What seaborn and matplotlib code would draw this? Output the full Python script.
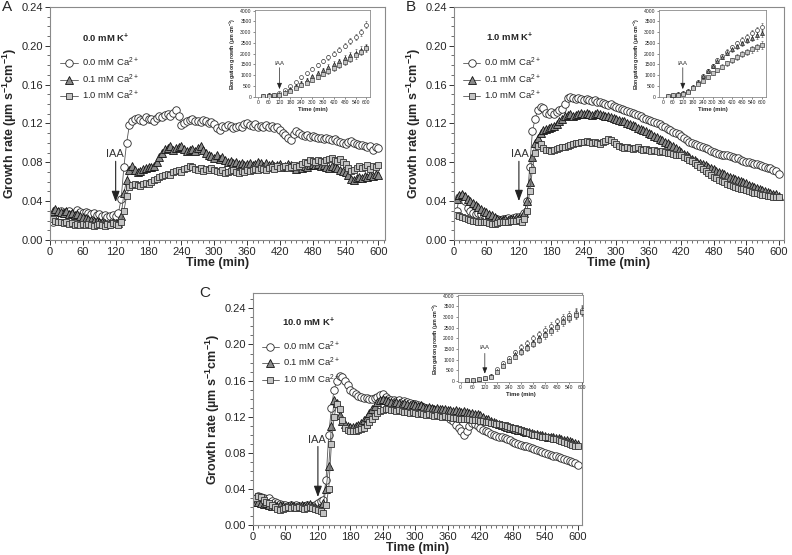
import numpy as np
import matplotlib
matplotlib.use("Agg")
import matplotlib.pyplot as plt
from matplotlib.lines import Line2D
from matplotlib.ticker import MultipleLocator, FormatStrFormatter
import seaborn as sns

# time axis of the growth-rate traces (min)
time = np.arange(5, 601, 5)

# growth rate, in 1e-3 um s-1 cm-1, every 5 min
# panel A: 0.0 mM K+
a_ca00 = [18, 26, 29, 30, 28, 29, 30, 27, 28, 31, 29, 28,
          29, 28, 27, 28, 26, 27, 25, 26, 24, 25, 26, 25,
          28, 42, 75, 100, 118, 123, 125, 126, 124, 122, 127, 125,
          125, 123, 126, 128, 127, 129, 130, 128, 131, 134, 128, 118,
          120, 122, 124, 125, 123, 122, 121, 124, 122, 120, 121, 119,
          115, 113, 117, 116, 118, 117, 115, 116, 117, 116, 119, 120,
          118, 117, 119, 116, 117, 116, 118, 116, 117, 115, 116, 113,
          110, 108, 105, 103, 109, 112, 110, 108, 107, 108, 106, 107,
          106, 105, 105, 104, 105, 104, 103, 104, 102, 101, 100, 99,
          101, 102, 100, 99, 98, 98, 97, 96, 97, 93, 96, 95]
a_ca01 = [30, 32, 30, 29, 28, 30, 27, 28, 26, 27, 25, 24,
          23, 22, 21, 20, 20, 19, 18, 17, 16, 17, 17, 17,
          17, 25, 48, 62, 72, 76, 72, 70, 71, 73, 74, 75,
          75, 76, 80, 85, 90, 94, 95, 97, 93, 95, 96, 97,
          94, 92, 93, 94, 92, 95, 97, 93, 90, 88, 86, 84,
          87, 83, 85, 82, 80, 81, 79, 80, 78, 79, 77, 78,
          79, 77, 78, 80, 79, 76, 79, 77, 78, 76, 77, 78,
          75, 76, 78, 77, 75, 73, 77, 74, 76, 75, 77, 78,
          77, 78, 76, 77, 75, 74, 76, 75, 74, 72, 71, 70,
          67, 63, 62, 64, 65, 64, 66, 65, 67, 66, 68, 67]
a_ca10 = [22, 20, 18, 19, 17, 18, 16, 17, 15, 16, 15, 16,
          15, 16, 15, 14, 15, 16, 15, 14, 16, 15, 17, 16,
          15, 18, 30, 45, 55, 57, 58, 57, 56, 58, 59, 58,
          60, 62, 63, 65, 66, 67, 68, 67, 70, 71, 72, 70,
          73, 74, 76, 75, 73, 72, 74, 71, 73, 72, 74, 72,
          71, 70, 72, 69, 70, 71, 72, 70, 69, 71, 70, 72,
          71, 72, 73, 72, 74, 73, 72, 74, 75, 73, 76, 74,
          75, 76, 74, 75, 77, 75, 76, 78, 80, 79, 82, 81,
          80, 82, 81, 80, 82, 83, 84, 82, 81, 83, 80, 78,
          74, 71, 72, 74, 76, 74, 75, 77, 73, 76, 75, 77]

# panel B: 1.0 mM K+
b_ca00 = [30, 44, 45, 40, 33, 30, 28, 27, 28, 27, 26, 25,
          24, 23, 22, 22, 21, 22, 22, 23, 22, 23, 24, 24,
          25, 28, 40, 75, 112, 125, 134, 137, 136, 131, 130, 132,
          130, 132, 134, 135, 140, 146, 147, 146, 145, 146, 145, 144,
          145, 144, 143, 144, 142, 142, 141, 140, 139, 140, 138, 137,
          136, 135, 134, 133, 132, 131, 130, 129, 128, 126, 125, 124,
          122, 121, 120, 119, 117, 116, 114, 113, 111, 110, 109, 107,
          105, 103, 101, 100, 99, 98, 97, 96, 95, 94, 92, 91,
          90, 89, 88, 88, 87, 86, 85, 84, 84, 82, 81, 80,
          80, 79, 78, 78, 77, 76, 75, 74, 74, 72, 71, 68]
b_ca01 = [42, 46, 47, 45, 42, 40, 38, 36, 34, 32, 30, 29,
          27, 26, 24, 22, 21, 21, 22, 21, 22, 22, 23, 23,
          24, 28, 40, 60, 85, 100, 105, 110, 113, 114, 115, 116,
          117, 119, 122, 125, 128, 129, 130, 128, 129, 130, 131, 130,
          131, 130, 129, 130, 131, 130, 129, 128, 128, 127, 126, 125,
          124, 123, 122, 120, 119, 118, 117, 115, 114, 113, 112, 110,
          109, 107, 106, 104, 103, 101, 100, 98, 97, 95, 93, 91,
          89, 87, 85, 83, 82, 80, 79, 78, 77, 75, 74, 73,
          71, 70, 69, 68, 66, 65, 64, 63, 62, 61, 60, 59,
          57, 56, 55, 54, 52, 51, 50, 49, 48, 47, 47, 45]
b_ca10 = [26, 25, 24, 23, 22, 21, 20, 20, 19, 19, 18, 18,
          17, 16, 16, 17, 18, 18, 19, 19, 20, 20, 20, 21,
          19, 22, 30, 50, 72, 90, 97, 99, 95, 93, 93, 92,
          93, 94, 95, 96, 96, 97, 98, 99, 100, 100, 101, 101,
          102, 101, 100, 101, 100, 99, 101, 102, 104, 103, 101, 99,
          97, 96, 95, 96, 95, 94, 95, 96, 94, 93, 94, 93,
          92, 93, 92, 91, 92, 91, 90, 90, 89, 88, 88, 87,
          85, 84, 82, 81, 79, 77, 75, 73, 71, 69, 67, 65,
          64, 62, 61, 60, 58, 57, 56, 55, 54, 53, 52, 51,
          50, 49, 48, 48, 47, 46, 46, 45, 45, 44, 44, 44]

# panel C: 10.0 mM K+
c_ca00 = [30, 32, 31, 30, 29, 30, 27, 25, 24, 23, 22, 22,
          21, 22, 21, 22, 21, 20, 21, 22, 21, 20, 22, 24,
          27, 28, 50, 100, 130, 150, 160, 165, 164, 160, 155, 150,
          147, 145, 143, 142, 141, 141, 140, 140, 141, 142, 144, 145,
          142, 140, 139, 138, 137, 138, 136, 137, 136, 135, 134, 134,
          133, 132, 131, 130, 129, 128, 127, 126, 125, 124, 123, 121,
          118, 115, 111, 108, 104, 100, 104, 110, 113, 112, 110, 107,
          105, 104, 103, 101, 100, 99, 98, 97, 96, 95, 94, 92,
          91, 90, 89, 88, 87, 86, 85, 84, 83, 82, 81, 80,
          79, 78, 77, 76, 75, 74, 73, 72, 71, 70, 69, 67]
c_ca01 = [25, 26, 24, 23, 24, 22, 21, 22, 21, 22, 21, 20,
          21, 22, 21, 20, 21, 22, 21, 22, 23, 21, 20, 19,
          20, 24, 40, 65, 110, 138, 135, 122, 115, 112, 110, 109,
          109, 110, 111, 113, 116, 120, 124, 128, 132, 136, 139, 140,
          138, 137, 136, 135, 136, 135, 134, 135, 134, 133, 134, 133,
          132, 133, 131, 130, 131, 130, 129, 130, 129, 128, 128, 127,
          127, 126, 127, 126, 125, 126, 125, 124, 124, 123, 123, 122,
          120, 118, 117, 115, 114, 113, 112, 111, 110, 109, 108, 107,
          106, 105, 105, 104, 103, 103, 102, 101, 101, 100, 100, 99,
          98, 98, 97, 96, 96, 95, 94, 94, 93, 92, 91, 90]
c_ca10 = [30, 32, 31, 28, 25, 24, 22, 20, 18, 17, 18, 19,
          20, 19, 20, 19, 20, 19, 18, 19, 20, 19, 18, 17,
          15, 13, 22, 40, 90, 120, 134, 128, 116, 108, 105, 104,
          104, 104, 105, 106, 108, 111, 114, 118, 121, 124, 126, 127,
          128, 128, 127, 127, 126, 127, 126, 125, 125, 124, 125, 124,
          123, 124, 123, 122, 123, 122, 121, 122, 121, 120, 121, 120,
          120, 119, 119, 118, 118, 117, 117, 117, 116, 116, 116, 115,
          115, 114, 114, 113, 113, 112, 112, 111, 111, 110, 109, 108,
          107, 106, 105, 104, 103, 102, 101, 100, 100, 99, 98, 97,
          97, 96, 95, 95, 94, 93, 92, 91, 90, 89, 88, 87]

# insets: elongation growth (um cm-1) every 30 min, with error bars
ins_time = np.arange(30, 601, 30)
ia_ca00 = [40, 70, 100, 150, 300, 480, 700, 900, 1100, 1300, 1480, 1660, 1840, 2000, 2180, 2380, 2580, 2780, 3000, 3350]
ia_ca01 = [30, 60, 90, 120, 200, 350, 500, 650, 800, 950, 1100, 1250, 1400, 1530, 1650, 1800, 1930, 2050, 2180, 2300]
ia_ca10 = [25, 50, 75, 100, 160, 280, 400, 530, 650, 780, 900, 1040, 1180, 1320, 1460, 1600, 1760, 1920, 2080, 2250]
ib_ca00 = [50, 80, 110, 150, 250, 450, 700, 950, 1200, 1450, 1700, 1900, 2100, 2300, 2480, 2650, 2800, 2950, 3100, 3250]
ib_ca01 = [50, 80, 110, 150, 250, 450, 700, 950, 1200, 1430, 1650, 1850, 2050, 2200, 2350, 2500, 2620, 2730, 2850, 2950]
ib_ca10 = [40, 60, 90, 120, 200, 400, 580, 750, 900, 1080, 1250, 1400, 1550, 1700, 1850, 1980, 2100, 2200, 2300, 2400]
ic_ca00 = [40, 70, 100, 150, 250, 550, 850, 1100, 1350, 1600, 1800, 2000, 2200, 2400, 2600, 2800, 2950, 3100, 3200, 3350]
ic_ca01 = [40, 70, 100, 140, 230, 480, 750, 1000, 1250, 1450, 1650, 1850, 2050, 2250, 2450, 2650, 2850, 3000, 3150, 3300]
ic_ca10 = [35, 65, 95, 130, 200, 450, 700, 950, 1150, 1350, 1550, 1750, 1950, 2150, 2350, 2550, 2750, 2950, 3100, 3250]
ins_err = [10, 10, 15, 20, 30, 40, 50, 60, 70, 80, 90, 100, 110, 115, 120, 130, 140, 150, 160, 170]
ins_err_c = [15, 20, 25, 30, 40, 60, 80, 100, 110, 120, 130, 140, 150, 160, 170, 180, 190, 200, 210, 220]

ca_labels = ["0.0 mM Ca$^{2+}$", "0.1 mM Ca$^{2+}$", "1.0 mM Ca$^{2+}$"]
k_labels = ["0.0 mM K$^{\\mathbf{+}}$", "1.0 mM K$^{\\mathbf{+}}$", "10.0 mM K$^{\\mathbf{+}}$"]

# marker, face, edge, size
STYLES = [("o", "white", "#2a2a2a", 5.4),
          ("^", "#8a8a8a", "#111111", 5.4),
          ("s", "#c4c4c4", "#333333", 4.8)]
LINE = "#555555"
FRAME = "#8a8a8a"

sns.set_theme(style="ticks")
plt.rcParams["font.family"] = ["Liberation Sans", "DejaVu Sans"]
plt.rcParams["mathtext.fontset"] = "custom"
plt.rcParams["mathtext.rm"] = "Liberation Sans"
plt.rcParams["mathtext.it"] = "Liberation Sans:italic"
plt.rcParams["mathtext.bf"] = "Liberation Sans:bold"


def style_frame(ax, lw=0.8):
    for sp in ax.spines.values():
        sp.set_visible(True)
        sp.set_color(FRAME)
        sp.set_linewidth(lw)


def draw_main(ax, series, k_label, xmax, ymax, iaa, legend_anchor, head_xy):
    for (marker, mfc, mec, ms), vals in zip(STYLES, series):
        sns.lineplot(x=time, y=np.asarray(vals) / 1000.0, ax=ax, marker=marker,
                     markersize=ms, markerfacecolor=mfc, markeredgecolor=mec,
                     markeredgewidth=0.6, color=LINE, linewidth=0.6,
                     estimator=None, sort=False, legend=False)
    ax.set_xlim(0, xmax)
    ax.set_ylim(0, ymax)
    ax.xaxis.set_major_locator(MultipleLocator(60))
    ax.xaxis.set_minor_locator(MultipleLocator(10))
    ax.yaxis.set_major_locator(MultipleLocator(0.04))
    ax.yaxis.set_minor_locator(MultipleLocator(0.01))
    ax.yaxis.set_major_formatter(FormatStrFormatter("%.2f"))
    ax.tick_params(axis="both", which="major", labelsize=8, length=3.5,
                   width=0.7, color="#333333", pad=1.5)
    ax.tick_params(axis="both", which="minor", length=2, width=0.5, color="#333333")
    ax.set_xlabel("Time (min)", fontsize=9, fontweight="bold", labelpad=0)
    ax.set_ylabel("Growth rate (µm s$^{\\mathbf{-1}}$cm$^{\\mathbf{-1}}$)",
                  fontsize=9, fontweight="bold", labelpad=2)
    style_frame(ax)

    # IAA addition arrow
    tx, ty, y0, y1 = iaa
    ax.annotate("", xy=(120, y1), xytext=(120, y0),
                arrowprops=dict(arrowstyle="-|>,head_length=0.55,head_width=0.2",
                                color="#222222", lw=0.8, shrinkA=0, shrinkB=0))
    ax.text(tx, ty, "IAA", fontsize=8, ha="center", va="bottom", color="#333333")

    handles = [Line2D([], [], color=LINE, lw=0.6, marker=m, markersize=ms,
                      markerfacecolor=mfc, markeredgecolor=mec, markeredgewidth=0.6)
               for (m, mfc, mec, ms) in STYLES]
    ax.legend(handles, ca_labels, loc="upper left", bbox_to_anchor=legend_anchor,
              frameon=False, fontsize=6.8, handlelength=1.9, handletextpad=0.4,
              labelspacing=0.35, borderaxespad=0, borderpad=0)
    ax.text(head_xy[0], head_xy[1], k_label, transform=ax.transAxes,
            fontsize=6.8, fontweight="bold", ha="left", va="center")


def draw_inset(ax, series, err, xlim, ylim, iaa):
    for (marker, mfc, mec, ms), vals in zip(STYLES, series):
        ax.errorbar(ins_time, vals, yerr=err, fmt="none", ecolor="#555555",
                    elinewidth=0.4, capsize=0.8, capthick=0.4)
        sns.scatterplot(x=ins_time, y=vals, ax=ax, marker=marker, s=8,
                        color=mfc, edgecolor=mec, linewidth=0.45, legend=False, zorder=3)
    ax.set_xlim(*xlim)
    ax.set_ylim(*ylim)
    ax.xaxis.set_major_locator(MultipleLocator(60))
    ax.yaxis.set_major_locator(MultipleLocator(500))
    ax.tick_params(axis="both", labelsize=3.6, length=1.5, width=0.4, pad=1,
                   color="#333333")
    ax.set_xlabel("Time (min)", fontsize=4.2, fontweight="bold", labelpad=1)
    ax.set_ylabel("Elongation growth (µm cm$^{\\mathbf{-1}}$)", fontsize=3.7,
                  fontweight="bold", labelpad=1.5)
    style_frame(ax, lw=0.6)
    ty, y0, y1 = iaa
    ax.annotate("", xy=(120, y1), xytext=(120, y0),
                arrowprops=dict(arrowstyle="-|>,head_length=0.3,head_width=0.12",
                                color="#222222", lw=0.5, shrinkA=0, shrinkB=0))
    ax.text(120, ty, "IAA", fontsize=4.5, ha="center", va="bottom", color="#333333")


fig = plt.figure(figsize=(7.92, 5.55), dpi=100)

ax_a = fig.add_axes([0.0631, 0.5676, 0.423, 0.420])
ax_b = fig.add_axes([0.5732, 0.5676, 0.4167, 0.420])
ax_c = fig.add_axes([0.3194, 0.0540, 0.4154, 0.418])

draw_main(ax_a, [a_ca00, a_ca01, a_ca10], k_labels[0], 612, 0.24,
          (118, 0.083, 0.081, 0.039), (0.03, 0.79), (0.096, 0.867))
draw_main(ax_b, [b_ca00, b_ca01, b_ca10], k_labels[1], 610, 0.24,
          (121, 0.083, 0.081, 0.040), (0.026, 0.79), (0.097, 0.868))
draw_main(ax_c, [c_ca00, c_ca01, c_ca10], k_labels[2], 608, 0.257,
          (119, 0.089, 0.087, 0.031), (0.026, 0.80), (0.087, 0.874))

ins_a = fig.add_axes([0.3220, 0.8252, 0.1452, 0.1568])
ins_b = fig.add_axes([0.8321, 0.8252, 0.1351, 0.1568])
ins_c = fig.add_axes([0.5783, 0.3117, 0.1578, 0.1568])

draw_inset(ins_a, [ia_ca00, ia_ca01, ia_ca10], ins_err, (-15, 620), (-15, 4035), (1450, 1350, 350))
draw_inset(ins_b, [ib_ca00, ib_ca01, ib_ca10], ins_err, (-24, 624), (-15, 4035), (1450, 1350, 350))
draw_inset(ins_c, [ic_ca00, ic_ca01, ic_ca10], ins_err_c, (-13, 607), (-40, 4035), (1450, 1300, 350))

fig.text(0.009, 0.987, "A", fontsize=11, ha="center", va="center")
fig.text(0.519, 0.987, "B", fontsize=11, ha="center", va="center")
fig.text(0.259, 0.4715, "C", fontsize=11, ha="center", va="center")

fig.savefig("out.png", dpi=100)
